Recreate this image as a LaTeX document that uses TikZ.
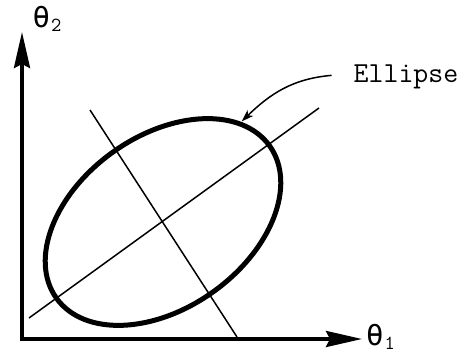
\documentclass[tikz,border=0pt]{standalone}
\usepackage{fontspec}
\newfontfamily\thetafont{DejaVu Sans Mono}
\usetikzlibrary{arrows.meta,positioning}

\newcommand{\thsub}[1]{{\thetafont\fontsize{29}{29}\selectfont θ}\kern1pt\raisebox{-4pt}{\fontsize{20}{20}\selectfont\ttfamily #1}}

\begin{document}
\begin{tikzpicture}[
  x=1pt, y=1pt,
  axis/.style={line width=3.5pt, line join=miter,
               {Stealth[length=36pt, width=16pt, inset=4pt]}-{Stealth[length=36pt, width=16pt, inset=4pt]}},
  oval/.style={line width=5pt},
  thin/.style={line width=1.5pt},
  pointer/.style={line width=1.5pt, -{Stealth[length=12pt, width=8pt, inset=3pt]}},
  lab/.style={inner sep=0pt}
]
\useasboundingbox (0,0) rectangle (469,354);

\coordinate (o) at (22,15);
\coordinate (xend) at (362,15);
\coordinate (yend) at (22,322);
\coordinate (c) at (163,132);

% axes
\draw[axis] (yend) -- (o) -- (xend);
\node[lab, right=4pt of xend, yshift=2pt] (t1) {\thsub{1}};
\node[lab] (t2) at (47,335) {\thsub{2}};

% ellipse and its axes
\draw[oval] (c) ellipse [x radius=131, y radius=86, rotate=35.5];
\coordinate (maj1) at (29,36);
\coordinate (maj2) at (319,246);
\coordinate (min1) at (90,244);
\coordinate (min2) at (237,17);
\draw[thin] (maj1) -- (maj2);
\draw[thin] (min1) -- (min2);

\begin{scope}[shift={(c)}, rotate=35.5]
  \coordinate (tip) at (24:134 and 89);
\end{scope}

% label
\node[lab, anchor=base] (lbl) at (406,271) {\fontsize{29}{29}\selectfont\ttfamily Ellipse};
\draw[pointer] ([xshift=-22pt, yshift=2pt]lbl.west) to[out=185, in=44] (tip);
\end{tikzpicture}
\end{document}
